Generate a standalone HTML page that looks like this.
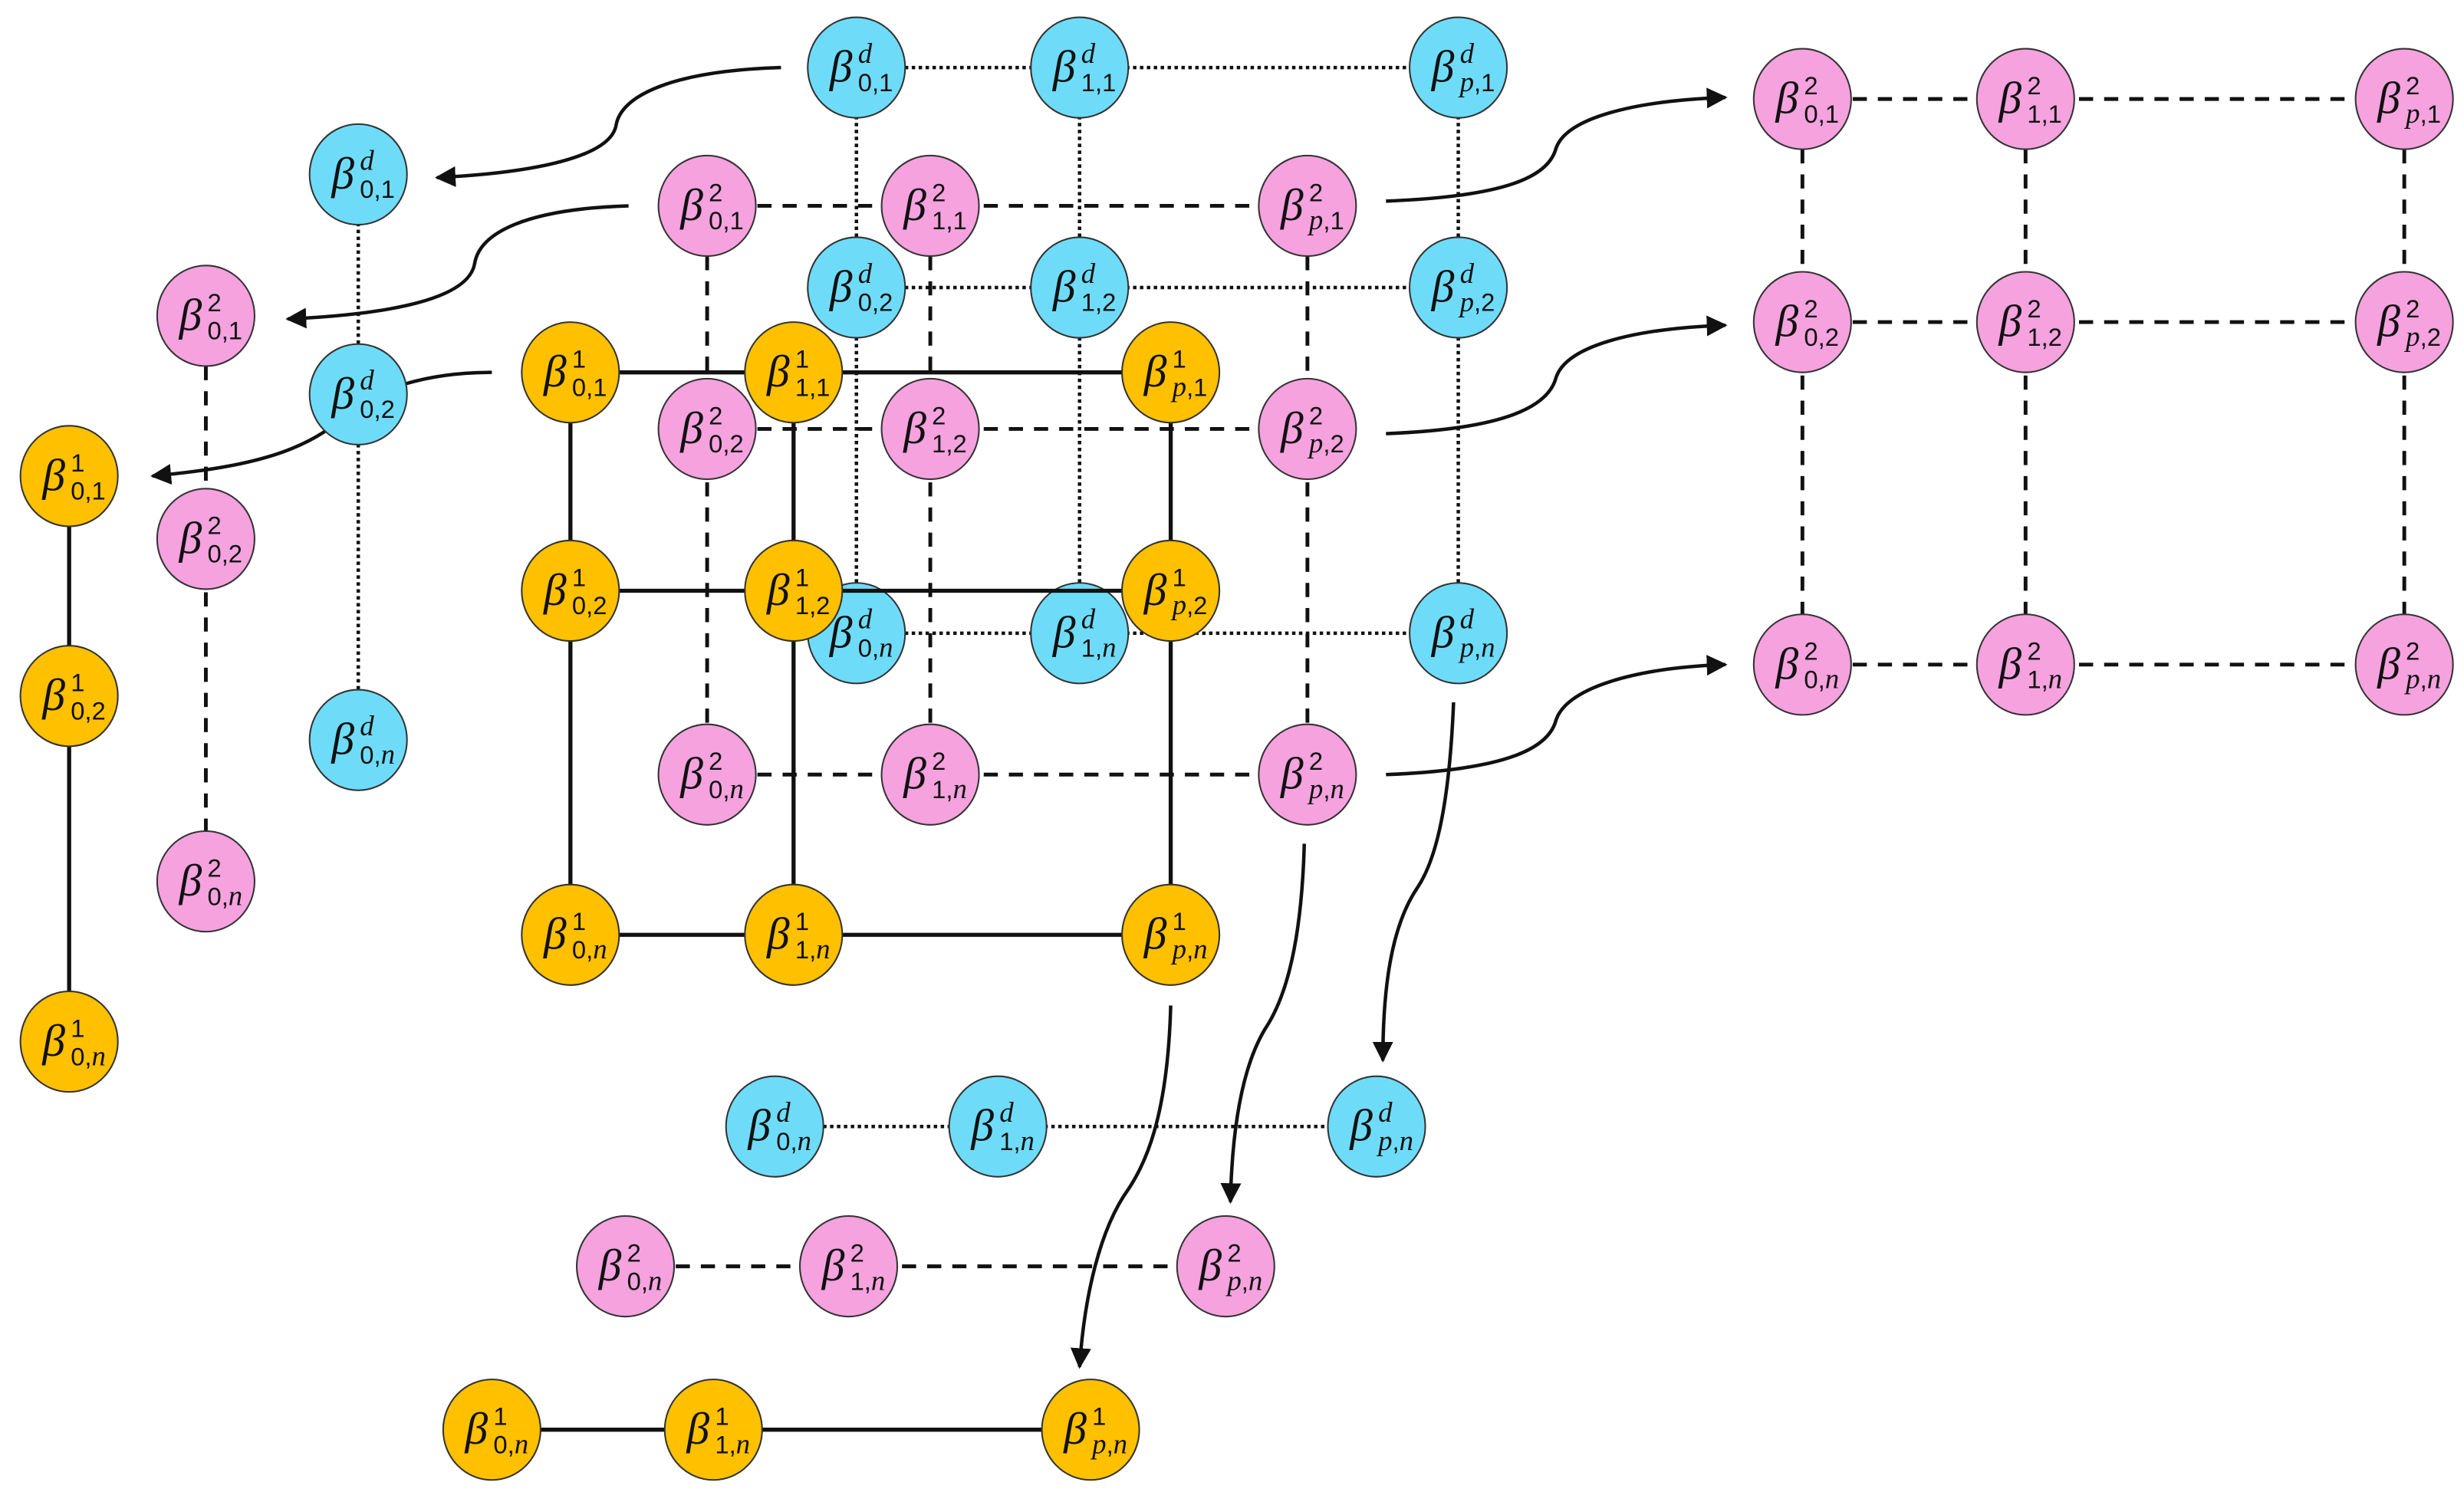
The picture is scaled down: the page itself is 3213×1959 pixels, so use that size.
<!DOCTYPE html>
<html><head><meta charset="utf-8"><style>
html,body{margin:0;padding:0;background:#fff}
svg{display:block}
.b{font-family:"Liberation Serif",serif;font-style:italic;font-size:29px;fill:#111;stroke:none}
.s{font-family:"Liberation Sans",sans-serif;font-size:16px;fill:#111;stroke:none}
.i{font-family:"Liberation Serif",serif;font-style:italic;font-size:18px}
.B{fill:#6EDCF8;stroke:#333;stroke-width:1}
.P{fill:#F5A2DF;stroke:#333;stroke-width:1}
.O{fill:#FFC000;stroke:#333;stroke-width:1}
.ld{stroke:#111;stroke-width:2.2;stroke-dasharray:2.2 2.2;fill:none}
.lp{stroke:#111;stroke-width:2.4;stroke-dasharray:9 7;fill:none}
.lo{stroke:#111;stroke-width:2.6;fill:none}
.ar{stroke:#111;stroke-width:2.2;fill:none;marker-end:url(#ah)}
</style></head><body>
<svg width="3213" height="1959" viewBox="0 0 1568 956" xmlns="http://www.w3.org/2000/svg">
<defs>
<marker id="ah" viewBox="0 0 10 10" refX="9" refY="5" markerWidth="6" markerHeight="6" orient="auto" markerUnits="strokeWidth"><path d="M0,0 L10,5 L0,10 z" fill="#111" stroke="none"/></marker>
<ellipse id="e" cx="0" cy="0" rx="31" ry="32"/>
</defs>

<!-- arrows -->
<path class="ar" d="M497,43 C430,45 395,60 392,80 C388,100 340,110 278,113"/>
<path class="ar" d="M400,131 C335,133 305,148 302,168 C298,190 250,200 183,203"/>
<path class="ar" d="M313,237 C270,237 240,248 222,262 C195,290 150,298 97,303"/>
<path class="ar" d="M882,128 C960,125 985,112 990,95 C996,75 1040,64 1098,62"/>
<path class="ar" d="M882,276 C960,273 985,258 990,241 C996,220 1040,209 1098,207"/>
<path class="ar" d="M882,493 C960,490 985,476 990,459 C996,438 1040,425 1098,423"/>
<path class="ar" d="M925,447 C922,520 912,550 902,565 C885,590 880,630 880,675"/>
<path class="ar" d="M830,537 C828,610 815,640 805,655 C790,680 784,720 783,765"/>
<path class="ar" d="M745,640 C743,713 728,742 718,757 C700,782 690,825 687,870"/>

<!-- blue lines -->
<path class="ld" d="M545,43H928M545,183H928M545,403H928M545,43V403M687,43V403M928,43V403M228,111V471M493,717H876"/>
<g class="B">
<g transform="translate(545,43)"><use href="#e"/><text class="b" x="-17" y="9">β</text><text class="s" x="1" y="-3"><tspan class="i">d</tspan></text><text class="s" x="1" y="15">0,1</text></g>
<g transform="translate(687,43)"><use href="#e"/><text class="b" x="-17" y="9">β</text><text class="s" x="1" y="-3"><tspan class="i">d</tspan></text><text class="s" x="1" y="15">1,1</text></g>
<g transform="translate(928,43)"><use href="#e"/><text class="b" x="-17" y="9">β</text><text class="s" x="1" y="-3"><tspan class="i">d</tspan></text><text class="s" x="1" y="15"><tspan class="i">p</tspan>,1</text></g>
<g transform="translate(545,183)"><use href="#e"/><text class="b" x="-17" y="9">β</text><text class="s" x="1" y="-3"><tspan class="i">d</tspan></text><text class="s" x="1" y="15">0,2</text></g>
<g transform="translate(687,183)"><use href="#e"/><text class="b" x="-17" y="9">β</text><text class="s" x="1" y="-3"><tspan class="i">d</tspan></text><text class="s" x="1" y="15">1,2</text></g>
<g transform="translate(928,183)"><use href="#e"/><text class="b" x="-17" y="9">β</text><text class="s" x="1" y="-3"><tspan class="i">d</tspan></text><text class="s" x="1" y="15"><tspan class="i">p</tspan>,2</text></g>
<g transform="translate(545,403)"><use href="#e"/><text class="b" x="-17" y="9">β</text><text class="s" x="1" y="-3"><tspan class="i">d</tspan></text><text class="s" x="1" y="15">0,<tspan class="i">n</tspan></text></g>
<g transform="translate(687,403)"><use href="#e"/><text class="b" x="-17" y="9">β</text><text class="s" x="1" y="-3"><tspan class="i">d</tspan></text><text class="s" x="1" y="15">1,<tspan class="i">n</tspan></text></g>
<g transform="translate(928,403)"><use href="#e"/><text class="b" x="-17" y="9">β</text><text class="s" x="1" y="-3"><tspan class="i">d</tspan></text><text class="s" x="1" y="15"><tspan class="i">p</tspan>,<tspan class="i">n</tspan></text></g>
<g transform="translate(228,111)"><use href="#e"/><text class="b" x="-17" y="9">β</text><text class="s" x="1" y="-3"><tspan class="i">d</tspan></text><text class="s" x="1" y="15">0,1</text></g>
<g transform="translate(228,251)"><use href="#e"/><text class="b" x="-17" y="9">β</text><text class="s" x="1" y="-3"><tspan class="i">d</tspan></text><text class="s" x="1" y="15">0,2</text></g>
<g transform="translate(228,471)"><use href="#e"/><text class="b" x="-17" y="9">β</text><text class="s" x="1" y="-3"><tspan class="i">d</tspan></text><text class="s" x="1" y="15">0,<tspan class="i">n</tspan></text></g>
<g transform="translate(493,717)"><use href="#e"/><text class="b" x="-17" y="9">β</text><text class="s" x="1" y="-3"><tspan class="i">d</tspan></text><text class="s" x="1" y="15">0,<tspan class="i">n</tspan></text></g>
<g transform="translate(635,717)"><use href="#e"/><text class="b" x="-17" y="9">β</text><text class="s" x="1" y="-3"><tspan class="i">d</tspan></text><text class="s" x="1" y="15">1,<tspan class="i">n</tspan></text></g>
<g transform="translate(876,717)"><use href="#e"/><text class="b" x="-17" y="9">β</text><text class="s" x="1" y="-3"><tspan class="i">d</tspan></text><text class="s" x="1" y="15"><tspan class="i">p</tspan>,<tspan class="i">n</tspan></text></g>
</g>

<!-- pink lines -->
<path class="lp" d="M450,131H832M450,273H832M450,493H832M450,131V493M592,131V493M832,131V493M131,201V561M1147,63H1530M1147,205H1530M1147,423H1530M1147,63V423M1289,63V423M1530,63V423M398,806H780"/>
<g class="P">
<g transform="translate(450,131)"><use href="#e"/><text class="b" x="-17" y="9">β</text><text class="s" x="1" y="-3">2</text><text class="s" x="1" y="15">0,1</text></g>
<g transform="translate(592,131)"><use href="#e"/><text class="b" x="-17" y="9">β</text><text class="s" x="1" y="-3">2</text><text class="s" x="1" y="15">1,1</text></g>
<g transform="translate(832,131)"><use href="#e"/><text class="b" x="-17" y="9">β</text><text class="s" x="1" y="-3">2</text><text class="s" x="1" y="15"><tspan class="i">p</tspan>,1</text></g>
<g transform="translate(450,273)"><use href="#e"/><text class="b" x="-17" y="9">β</text><text class="s" x="1" y="-3">2</text><text class="s" x="1" y="15">0,2</text></g>
<g transform="translate(592,273)"><use href="#e"/><text class="b" x="-17" y="9">β</text><text class="s" x="1" y="-3">2</text><text class="s" x="1" y="15">1,2</text></g>
<g transform="translate(832,273)"><use href="#e"/><text class="b" x="-17" y="9">β</text><text class="s" x="1" y="-3">2</text><text class="s" x="1" y="15"><tspan class="i">p</tspan>,2</text></g>
<g transform="translate(450,493)"><use href="#e"/><text class="b" x="-17" y="9">β</text><text class="s" x="1" y="-3">2</text><text class="s" x="1" y="15">0,<tspan class="i">n</tspan></text></g>
<g transform="translate(592,493)"><use href="#e"/><text class="b" x="-17" y="9">β</text><text class="s" x="1" y="-3">2</text><text class="s" x="1" y="15">1,<tspan class="i">n</tspan></text></g>
<g transform="translate(832,493)"><use href="#e"/><text class="b" x="-17" y="9">β</text><text class="s" x="1" y="-3">2</text><text class="s" x="1" y="15"><tspan class="i">p</tspan>,<tspan class="i">n</tspan></text></g>
<g transform="translate(131,201)"><use href="#e"/><text class="b" x="-17" y="9">β</text><text class="s" x="1" y="-3">2</text><text class="s" x="1" y="15">0,1</text></g>
<g transform="translate(131,343)"><use href="#e"/><text class="b" x="-17" y="9">β</text><text class="s" x="1" y="-3">2</text><text class="s" x="1" y="15">0,2</text></g>
<g transform="translate(131,561)"><use href="#e"/><text class="b" x="-17" y="9">β</text><text class="s" x="1" y="-3">2</text><text class="s" x="1" y="15">0,<tspan class="i">n</tspan></text></g>
<g transform="translate(1147,63)"><use href="#e"/><text class="b" x="-17" y="9">β</text><text class="s" x="1" y="-3">2</text><text class="s" x="1" y="15">0,1</text></g>
<g transform="translate(1289,63)"><use href="#e"/><text class="b" x="-17" y="9">β</text><text class="s" x="1" y="-3">2</text><text class="s" x="1" y="15">1,1</text></g>
<g transform="translate(1530,63)"><use href="#e"/><text class="b" x="-17" y="9">β</text><text class="s" x="1" y="-3">2</text><text class="s" x="1" y="15"><tspan class="i">p</tspan>,1</text></g>
<g transform="translate(1147,205)"><use href="#e"/><text class="b" x="-17" y="9">β</text><text class="s" x="1" y="-3">2</text><text class="s" x="1" y="15">0,2</text></g>
<g transform="translate(1289,205)"><use href="#e"/><text class="b" x="-17" y="9">β</text><text class="s" x="1" y="-3">2</text><text class="s" x="1" y="15">1,2</text></g>
<g transform="translate(1530,205)"><use href="#e"/><text class="b" x="-17" y="9">β</text><text class="s" x="1" y="-3">2</text><text class="s" x="1" y="15"><tspan class="i">p</tspan>,2</text></g>
<g transform="translate(1147,423)"><use href="#e"/><text class="b" x="-17" y="9">β</text><text class="s" x="1" y="-3">2</text><text class="s" x="1" y="15">0,<tspan class="i">n</tspan></text></g>
<g transform="translate(1289,423)"><use href="#e"/><text class="b" x="-17" y="9">β</text><text class="s" x="1" y="-3">2</text><text class="s" x="1" y="15">1,<tspan class="i">n</tspan></text></g>
<g transform="translate(1530,423)"><use href="#e"/><text class="b" x="-17" y="9">β</text><text class="s" x="1" y="-3">2</text><text class="s" x="1" y="15"><tspan class="i">p</tspan>,<tspan class="i">n</tspan></text></g>
<g transform="translate(398,806)"><use href="#e"/><text class="b" x="-17" y="9">β</text><text class="s" x="1" y="-3">2</text><text class="s" x="1" y="15">0,<tspan class="i">n</tspan></text></g>
<g transform="translate(540,806)"><use href="#e"/><text class="b" x="-17" y="9">β</text><text class="s" x="1" y="-3">2</text><text class="s" x="1" y="15">1,<tspan class="i">n</tspan></text></g>
<g transform="translate(780,806)"><use href="#e"/><text class="b" x="-17" y="9">β</text><text class="s" x="1" y="-3">2</text><text class="s" x="1" y="15"><tspan class="i">p</tspan>,<tspan class="i">n</tspan></text></g>
</g>

<!-- orange lines -->
<path class="lo" d="M363,237H745M363,376H745M363,595H745M363,237V595M505,237V595M745,237V595M44,303V663M313,910H694"/>
<g class="O">
<g transform="translate(363,237)"><use href="#e"/><text class="b" x="-17" y="9">β</text><text class="s" x="1" y="-3">1</text><text class="s" x="1" y="15">0,1</text></g>
<g transform="translate(505,237)"><use href="#e"/><text class="b" x="-17" y="9">β</text><text class="s" x="1" y="-3">1</text><text class="s" x="1" y="15">1,1</text></g>
<g transform="translate(745,237)"><use href="#e"/><text class="b" x="-17" y="9">β</text><text class="s" x="1" y="-3">1</text><text class="s" x="1" y="15"><tspan class="i">p</tspan>,1</text></g>
<g transform="translate(363,376)"><use href="#e"/><text class="b" x="-17" y="9">β</text><text class="s" x="1" y="-3">1</text><text class="s" x="1" y="15">0,2</text></g>
<g transform="translate(505,376)"><use href="#e"/><text class="b" x="-17" y="9">β</text><text class="s" x="1" y="-3">1</text><text class="s" x="1" y="15">1,2</text></g>
<g transform="translate(745,376)"><use href="#e"/><text class="b" x="-17" y="9">β</text><text class="s" x="1" y="-3">1</text><text class="s" x="1" y="15"><tspan class="i">p</tspan>,2</text></g>
<g transform="translate(363,595)"><use href="#e"/><text class="b" x="-17" y="9">β</text><text class="s" x="1" y="-3">1</text><text class="s" x="1" y="15">0,<tspan class="i">n</tspan></text></g>
<g transform="translate(505,595)"><use href="#e"/><text class="b" x="-17" y="9">β</text><text class="s" x="1" y="-3">1</text><text class="s" x="1" y="15">1,<tspan class="i">n</tspan></text></g>
<g transform="translate(745,595)"><use href="#e"/><text class="b" x="-17" y="9">β</text><text class="s" x="1" y="-3">1</text><text class="s" x="1" y="15"><tspan class="i">p</tspan>,<tspan class="i">n</tspan></text></g>
<g transform="translate(44,303)"><use href="#e"/><text class="b" x="-17" y="9">β</text><text class="s" x="1" y="-3">1</text><text class="s" x="1" y="15">0,1</text></g>
<g transform="translate(44,443)"><use href="#e"/><text class="b" x="-17" y="9">β</text><text class="s" x="1" y="-3">1</text><text class="s" x="1" y="15">0,2</text></g>
<g transform="translate(44,663)"><use href="#e"/><text class="b" x="-17" y="9">β</text><text class="s" x="1" y="-3">1</text><text class="s" x="1" y="15">0,<tspan class="i">n</tspan></text></g>
<g transform="translate(313,910)"><use href="#e"/><text class="b" x="-17" y="9">β</text><text class="s" x="1" y="-3">1</text><text class="s" x="1" y="15">0,<tspan class="i">n</tspan></text></g>
<g transform="translate(454,910)"><use href="#e"/><text class="b" x="-17" y="9">β</text><text class="s" x="1" y="-3">1</text><text class="s" x="1" y="15">1,<tspan class="i">n</tspan></text></g>
<g transform="translate(694,910)"><use href="#e"/><text class="b" x="-17" y="9">β</text><text class="s" x="1" y="-3">1</text><text class="s" x="1" y="15"><tspan class="i">p</tspan>,<tspan class="i">n</tspan></text></g>
</g>
</svg>
</body></html>
